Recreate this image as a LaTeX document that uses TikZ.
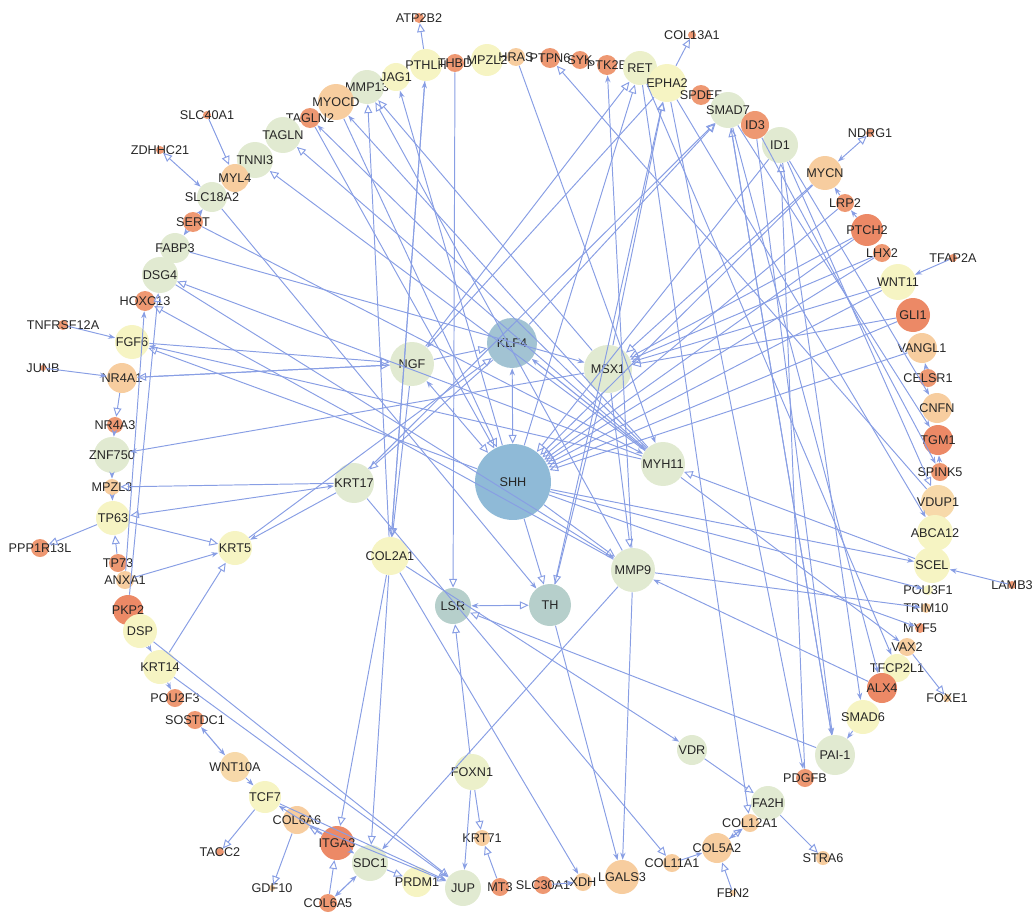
\documentclass[tikz,border=0pt]{standalone}
\usepackage{fontspec}
\setmainfont{Liberation Sans}
\usetikzlibrary{arrows.meta}
\definecolor{cG}{HTML}{E1EAD1}
\definecolor{cY}{HTML}{F6F4C3}
\definecolor{cYG}{HTML}{ECF0CA}
\definecolor{cP}{HTML}{F7CD9F}
\definecolor{cO}{HTML}{EE9872}
\definecolor{cR}{HTML}{EC8966}
\definecolor{cB}{HTML}{8FBAD7}
\definecolor{cB2}{HTML}{A2C3D3}
\definecolor{cT}{HTML}{B6CFCB}
\definecolor{edgeblue}{HTML}{889EE4}
\tikzstyle{gene} = [circle, inner sep=0pt, draw=none]
\tikzstyle{arrow} = [draw=edgeblue, line width=0.55pt, -{Triangle[open, length=5pt, width=4.5pt]}]
\tikzstyle{sarrow} = [draw=edgeblue, line width=0.55pt, -{Stealth[length=4pt, width=3pt]}]
\tikzstyle{barrow} = [draw=edgeblue, line width=0.55pt, {Stealth[length=4pt, width=3pt]}-{Triangle[open, length=5pt, width=4.5pt]}]
\tikzstyle{darrow} = [draw=edgeblue, line width=0.65pt, {Stealth[length=4pt, width=3pt]}-{Stealth[length=4pt, width=3pt]}]
\tikzset{sz/.style={minimum size=#1*0.2mm}}

\begin{document}
\begin{tikzpicture}[x=0.02cm, y=-0.02cm,
  every label/.style={font=\fontsize{7.2}{8}\selectfont, text=black!85}]
    \useasboundingbox (0,0) rectangle (1035,913);

    % Nodes (centre)
    \node[gene, sz=76, fill=cB, label=center:SHH] (shh) at (513,482) {};
    \node[gene, sz=50, fill=cB2, label=center:KLF4] (klf4) at (512,343) {};
    \node[gene, sz=44, fill=cG, label=center:NGF] (ngf) at (412,364) {};
    \node[gene, sz=48, fill=cG, label=center:MSX1] (msx1) at (608,369) {};
    \node[gene, sz=44, fill=cG, label=center:MYH11] (myh11) at (663,464) {};
    \node[gene, sz=40, fill=cG, label=center:KRT17] (krt17) at (354,483) {};
    \node[gene, sz=38, fill=cY, label=center:COL2A1] (col2a1) at (390,556) {};
    \node[gene, sz=44, fill=cG, label=center:MMP9] (mmp9) at (633,570) {};
    \node[gene, sz=36, fill=cT, label=center:LSR] (lsr) at (453,606) {};
    \node[gene, sz=42, fill=cT, label=center:TH] (th) at (550,605) {};
    \node[gene, sz=34, fill=cY, label=center:KRT5] (krt5) at (235,548) {};
    \node[gene, sz=30, fill=cG, label=center:VDR] (vdr) at (692,750) {};
    \node[gene, sz=36, fill=cYG, label=center:FOXN1] (foxn1) at (472,772) {};

    % Nodes (top)
    \node[gene, sz=10, fill=cO, label=center:ATP2B2] (atp) at (419,18) {};
    \node[gene, sz=32, fill=cY, label=center:PTHLH] (pthlh) at (426,65) {};
    \node[gene, sz=18, fill=cO, label=center:THBD] (thbd) at (455,63) {};
    \node[gene, sz=32, fill=cY, label=center:MPZL2] (mpzl2) at (487,60) {};
    \node[gene, sz=18, fill=cP, label=center:HRAS] (hras) at (516,57) {};
    \node[gene, sz=20, fill=cO, label=center:PTPN6] (ptpn6) at (550,58) {};
    \node[gene, sz=18, fill=cO, label=center:SYK] (syk) at (580,60) {};
    \node[gene, sz=20, fill=cO, label=center:PTK2B] (ptk2b) at (607,65) {};
    \node[gene, sz=34, fill=cYG, label=center:RET] (ret) at (640,68) {};
    \node[gene, sz=38, fill=cY, label=center:EPHA2] (epha2) at (667,83) {};
    \node[gene, sz=8, fill=cO, label=center:COL13A1] (col13a1) at (692,35) {};
    \node[gene, sz=20, fill=cO, label=center:SPDEF] (spdef) at (701,95) {};
    \node[gene, sz=36, fill=cG, label=center:SMAD7] (smad7) at (728,110) {};
    \node[gene, sz=28, fill=cO, label=center:ID3] (id3) at (755,125) {};
    \node[gene, sz=36, fill=cG, label=center:ID1] (id1) at (780,145) {};
    \node[gene, sz=34, fill=cG, label=center:MMP13] (mmp13) at (367,87) {};
    \node[gene, sz=28, fill=cY, label=center:JAG1] (jag1) at (396,77) {};
    \node[gene, sz=36, fill=cP, label=center:MYOCD] (myocd) at (336,102) {};
    \node[gene, sz=20, fill=cO, label=center:TAGLN2] (tagln2) at (310,118) {};
    \node[gene, sz=36, fill=cG, label=center:TAGLN] (tagln) at (283,135) {};
    \node[gene, sz=36, fill=cG, label=center:TNNI3] (tnni3) at (255,160) {};

    % Nodes (right)
    \node[gene, sz=8, fill=cO, label=center:NDRG1] (ndrg1) at (870,133) {};
    \node[gene, sz=34, fill=cP, label=center:MYCN] (mycn) at (825,173) {};
    \node[gene, sz=18, fill=cO, label=center:LRP2] (lrp2) at (845,203) {};
    \node[gene, sz=32, fill=cR, label=center:PTCH2] (ptch2) at (867,230) {};
    \node[gene, sz=18, fill=cO, label=center:LHX2] (lhx2) at (882,253) {};
    \node[gene, sz=8, fill=cO, label=center:TFAP2A] (tfap2a) at (953,258) {};
    \node[gene, sz=36, fill=cY, label=center:WNT11] (wnt11) at (898,282) {};
    \node[gene, sz=34, fill=cR, label=center:GLI1] (gli1) at (913,315) {};
    \node[gene, sz=30, fill=cP, label=center:VANGL1] (vangl1) at (922,348) {};
    \node[gene, sz=18, fill=cO, label=center:CELSR1] (celsr1) at (928,378) {};
    \node[gene, sz=30, fill=cP, label=center:CNFN] (cnfn) at (937,408) {};
    \node[gene, sz=30, fill=cR, label=center:TGM1] (tgm1) at (938,440) {};
    \node[gene, sz=18, fill=cO, label=center:SPINK5] (spink5) at (940,472) {};
    \node[gene, sz=34, fill=cP!70!cY, label=center:VDUP1] (vdup1) at (938,502) {};
    \node[gene, sz=36, fill=cY, label=center:ABCA12] (abca12) at (935,533) {};
    \node[gene, sz=36, fill=cY, label=center:SCEL] (scel) at (932,565) {};
    \node[gene, sz=8, fill=cO, label=center:LAMB3] (lamb3) at (1012,585) {};
    \node[gene, sz=10, fill=cY, label=center:POU3F1] (pou3f1) at (928,590) {};
    \node[gene, sz=10, fill=cP, label=center:TRIM10] (trim10) at (926,608) {};
    \node[gene, sz=10, fill=cO, label=center:MYF5] (myf5) at (920,628) {};
    \node[gene, sz=18, fill=cP, label=center:VAX2] (vax2) at (907,647) {};
    \node[gene, sz=28, fill=cY, label=center:TFCP2L1] (tfcp2l1) at (897,668) {};
    \node[gene, sz=30, fill=cR, label=center:ALX4] (alx4) at (882,688) {};
    \node[gene, sz=8, fill=cP, label=center:FOXE1] (foxe1) at (947,698) {};
    \node[gene, sz=34, fill=cY, label=center:SMAD6] (smad6) at (863,717) {};
    \node[gene, sz=40, fill=cG, label=center:PAI-1] (pai1) at (835,755) {};
    \node[gene, sz=18, fill=cO, label=center:PDGFB] (pdgfb) at (805,778) {};

    % Nodes (bottom)
    \node[gene, sz=34, fill=cG, label=center:FA2H] (fa2h) at (768,803) {};
    \node[gene, sz=14, fill=cP, label=center:STRA6] (stra6) at (823,858) {};
    \node[gene, sz=18, fill=cP, label=center:COL12A1] (col12a1) at (750,823) {};
    \node[gene, sz=30, fill=cP, label=center:COL5A2] (col5a2) at (717,848) {};
    \node[gene, sz=6, fill=cP, label=center:FBN2] (fbn2) at (733,893) {};
    \node[gene, sz=18, fill=cP, label=center:COL11A1] (col11a1) at (672,863) {};
    \node[gene, sz=34, fill=cP, label=center:LGALS3] (lgals3) at (622,877) {};
    \node[gene, sz=18, fill=cP, label=center:XDH] (xdh) at (583,882) {};
    \node[gene, sz=18, fill=cO, label=center:SLC30A1] (slc30a1) at (543,885) {};
    \node[gene, sz=18, fill=cO, label=center:MT3] (mt3) at (500,887) {};
    \node[gene, sz=36, fill=cG, label=center:JUP] (jup) at (463,888) {};
    \node[gene, sz=16, fill=cP, label=center:KRT71] (krt71) at (482,838) {};
    \node[gene, sz=30, fill=cY, label=center:PRDM1] (prdm1) at (417,882) {};
    \node[gene, sz=36, fill=cG, label=center:SDC1] (sdc1) at (370,863) {};
    \node[gene, sz=34, fill=cR, label=center:ITGA3] (itga3) at (337,843) {};
    \node[gene, sz=18, fill=cO, label=center:COL6A5] (col6a5) at (328,903) {};
    \node[gene, sz=28, fill=cP, label=center:COL6A6] (col6a6) at (297,820) {};
    \node[gene, sz=6, fill=cP, label=center:GDF10] (gdf10) at (272,888) {};
    \node[gene, sz=32, fill=cY, label=center:TCF7] (tcf7) at (265,797) {};
    \node[gene, sz=8, fill=cO, label=center:TACC2] (tacc2) at (220,852) {};

    % Nodes (left)
    \node[gene, sz=30, fill=cP!70!cY, label=center:WNT10A] (wnt10a) at (235,767) {};
    \node[gene, sz=18, fill=cO, label=center:SOSTDC1] (sostdc1) at (195,720) {};
    \node[gene, sz=18, fill=cO, label=center:POU2F3] (pou2f3) at (175,698) {};
    \node[gene, sz=34, fill=cY, label=center:KRT14] (krt14) at (160,667) {};
    \node[gene, sz=30, fill=cR, label=center:PKP2] (pkp2) at (128,610) {};
    \node[gene, sz=34, fill=cY, label=center:DSP] (dsp) at (140,631) {};
    \node[gene, sz=18, fill=cP, label=center:ANXA1] (anxa1) at (125,580) {};
    \node[gene, sz=18, fill=cO, label=center:TP73] (tp73) at (118,563) {};
    \node[gene, sz=18, fill=cO, label=center:PPP1R13L] (ppp1r13l) at (40,548) {};
    \node[gene, sz=34, fill=cY, label=center:TP63] (tp63) at (113,518) {};
    \node[gene, sz=16, fill=cP, label=center:MPZL3] (mpzl3) at (112,487) {};
    \node[gene, sz=36, fill=cG, label=center:ZNF750] (znf750) at (112,455) {};
    \node[gene, sz=16, fill=cO, label=center:NR4A3] (nr4a3) at (115,425) {};
    \node[gene, sz=30, fill=cP, label=center:NR4A1] (nr4a1) at (122,378) {};
    \node[gene, sz=6, fill=cO, label=center:JUNB] (junb) at (43,368) {};
    \node[gene, sz=34, fill=cY, label=center:FGF6] (fgf6) at (132,342) {};
    \node[gene, sz=10, fill=cO, label=center:TNFRSF12A] (tnfrsf12a) at (63,325) {};
    \node[gene, sz=20, fill=cO, label=center:HOXC13] (hoxc13) at (145,301) {};
    \node[gene, sz=36, fill=cG, label=center:DSG4] (dsg4) at (160,275) {};
    \node[gene, sz=30, fill=cG, label=center:FABP3] (fabp3) at (175,248) {};
    \node[gene, sz=20, fill=cO, label=center:SERT] (sert) at (193,222) {};
    \node[gene, sz=30, fill=cG, label=center:SLC18A2] (slc18a2) at (212,197) {};
    \node[gene, sz=8, fill=cO, label=center:ZDHHC21] (zdhhc21) at (160,150) {};
    \node[gene, sz=28, fill=cP, label=center:MYL4] (myl4) at (235,178) {};
    \node[gene, sz=8, fill=cO, label=center:SLC40A1] (slc40a1) at (207,115) {};

    % Edges (open heads)
    \foreach \a/\b in {pthlh/atp, epha2/col13a1, slc40a1/myl4, nr4a1/nr4a3, tp73/tp63,
        tp63/ppp1r13l, tp63/krt5, krt14/krt5, tcf7/tacc2, col6a6/gdf10, col6a5/itga3,
        itga3/col6a6, sdc1/prdm1, foxn1/krt71, mt3/krt71, foxn1/lsr, vdr/fa2h, fa2h/stra6,
        col5a2/col12a1, fbn2/col5a2, vax2/foxe1, ngf/klf4, col2a1/mmp13, msx1/mmp13,
        mmp9/mmp13, pthlh/col2a1, ngf/col2a1, thbd/lsr, col2a1/sdc1, col2a1/itga3,
        krt17/col11a1, wnt11/shh, gli1/shh, ptch2/shh, lhx2/shh, lrp2/shh, mycn/shh,
        vangl1/shh, id1/shh, tagln2/shh, myocd/shh, wnt11/msx1, gli1/msx1, lhx2/msx1,
        ptch2/msx1, mycn/msx1, msx1/mmp9, shh/mmp9, shh/th, msx1/th, scel/myh11,
        myh11/tagln, myh11/tnni3, shh/ret, ngf/ret, msx1/epha2, th/epha2, krt17/smad7,
        klf4/smad7, pdgfb/id1, pai1/smad7, fgf6/ngf, nr4a1/ngf, shh/fgf6, ngf/nr4a1,
        klf4/krt17, krt5/klf4, dsp/jup, col6a6/jup, myh11/dsg4, mmp9/hoxc13, pkp2/dsg4,
        pai1/lsr, id1/vdup1, ret/col12a1, vdup1/ptpn6, krt17/mpzl3}
        \draw[arrow] (\a) -- (\b);

    % Edges (filled heads)
    \foreach \a/\b in {tnfrsf12a/fgf6, junb/nr4a1, znf750/mpzl3, mpzl3/tp63, nr4a3/znf750,
        anxa1/krt5, krt17/krt5, dsp/krt14, krt14/pou2f3, wnt10a/tcf7, itga3/tcf7, itga3/sdc1,
        foxn1/jup, col11a1/col5a2, slc30a1/xdh, smad6/pai1, lamb3/scel, celsr1/vangl1,
        spink5/tgm1, lrp2/mycn, ptch2/lrp2, sert/slc18a2, sert/fabp3, tfap2a/wnt11,
        smad7/pai1, id3/pai1, id1/smad6, epha2/pdgfb, smad7/alx4, ret/tfcp2l1, alx4/mmp9,
        epha2/ngf, myh11/fgf6, msx1/znf750, mmp9/sdc1, mmp9/lgals3, th/lgals3, col2a1/xdh,
        col2a1/vdr, anxa1/hoxc13, myh11/tagln2, shh/scel, myh11/vax2, shh/pou3f1,
        shh/myf5, mmp9/trim10, id3/spink5, sert/myh11, slc18a2/th, krt14/jup, tcf7/jup,
        hras/myh11, mmp9/ptk2b, shh/jag1, myh11/myocd, col2a1/pthlh, id1/cnfn, smad7/tgm1,
        epha2/abca12, dsg4/mmp9, fabp3/msx1}
        \draw[sarrow] (\a) -- (\b);

    % Edges (both ends)
    \foreach \a/\b in {mycn/ndrg1, slc18a2/zdhhc21, klf4/shh, ngf/shh, lsr/th, krt17/tp63}
        \draw[barrow] (\a) -- (\b);
    \foreach \a/\b in {klf4/myh11, sdc1/col6a5, sostdc1/wnt10a, col12a1/col5a2}
        \draw[darrow] (\a) -- (\b);
\end{tikzpicture}
\end{document}
